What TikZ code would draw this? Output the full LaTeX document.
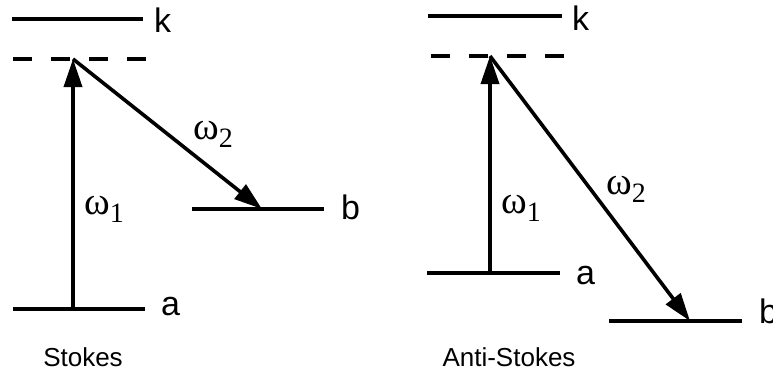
\documentclass[tikz,border=0pt]{standalone}
\usepackage{fontspec}
\setmainfont{Liberation Sans}
\newfontfamily\serifgreek{Liberation Serif}
\usetikzlibrary{arrows.meta}
\newcommand{\omlabel}[1]{\serifgreek\fontsize{39}{44}\selectfont ω\raisebox{-8pt}{\fontsize{28}{32}\selectfont #1}}
\begin{document}
\begin{tikzpicture}[x=1pt,y=-1pt,
  lvl/.style={line width=3.6pt},
  virt/.style={line width=3.6pt, dash pattern=on 19pt off 19pt},
  trans/.style={line width=3.6pt, -{Triangle[length=28pt,width=18pt]}},
  lbl/.style={anchor=west, inner sep=0pt, font=\fontsize{34}{40}\selectfont},
  captxt/.style={inner sep=0pt, font=\fontsize{26}{30}\selectfont},
  om/.style={anchor=base west, inner sep=0pt}]
\useasboundingbox (0,0) rectangle (773,376);
% ---------- Stokes ----------
\coordinate (kL1) at (12,19);  \coordinate (kR1) at (143,19);
\coordinate (vL1) at (13,59);  \coordinate (vR1) at (147,59);
\coordinate (aL1) at (13,309); \coordinate (aR1) at (145,309);
\coordinate (bL1) at (192,209); \coordinate (bR1) at (324,209);
\coordinate (top1) at (73,59);
\coordinate (bot1) at (73,309);
\coordinate (end1) at (262,209);
\draw[lvl] (kL1) -- (kR1);
\draw[virt] (vL1) -- (vR1);
\draw[lvl] (aL1) -- (aR1);
\draw[lvl] (bL1) -- (bR1);
\draw[trans] (bot1) -- (top1);
\draw[trans] (top1) -- (end1);
\node[lbl] (k1) at (154,20) {k};
\node[lbl] (a1) at (161,307) {a};
\node[lbl] (b1) at (341,207) {b};
\node[om] (w11) at (84,214) {\omlabel{1}};
\node[om] (w21) at (193,139) {\omlabel{2}};
\node[captxt] (s1) at (83,357) {Stokes};
% ---------- Anti-Stokes ----------
\coordinate (kL2) at (428,16);  \coordinate (kR2) at (562,16);
\coordinate (vL2) at (431,56);  \coordinate (vR2) at (564,56);
\coordinate (aL2) at (427,273); \coordinate (aR2) at (560,273);
\coordinate (bL2) at (609,321); \coordinate (bR2) at (742,321);
\coordinate (top2) at (490,56);
\coordinate (bot2) at (490,273);
\coordinate (end2) at (690,321);
\draw[lvl] (kL2) -- (kR2);
\draw[virt] (vL2) -- (vR2);
\draw[lvl] (aL2) -- (aR2);
\draw[lvl] (bL2) -- (bR2);
\draw[trans] (bot2) -- (top2);
\draw[trans] (top2) -- (end2);
\node[lbl] (k2) at (572,18) {k};
\node[lbl] (a2) at (576,276) {a};
\node[lbl] (b2) at (759,311) {b};
\node[om] (w12) at (501,213) {\omlabel{1}};
\node[om] (w22) at (606,194) {\omlabel{2}};
\node[captxt] (s2) at (509,357) {Anti-Stokes};
\end{tikzpicture}
\end{document}
